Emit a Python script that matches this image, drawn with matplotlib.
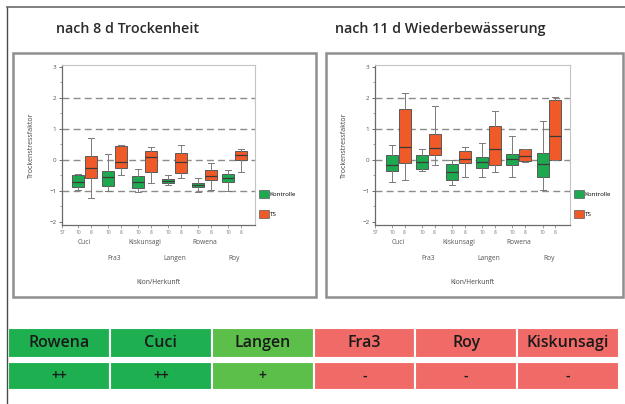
import matplotlib.pyplot as plt
from matplotlib.patches import Rectangle, Patch

plt.rcParams['font.family'] = ['Open Sans', 'DejaVu Sans']

W, H = 625, 404

klone = ['Cuci', 'Fra3', 'Kiskunsagi', 'Langen', 'Rowena', 'Roy']

# per clone: whisker low, q1, median, q3, whisker high
trocken_kontrolle = [
    [-0.97, -0.89, -0.72, -0.48, -0.45],
    [-1.00, -0.84, -0.55, -0.35, 0.18],
    [-1.05, -0.92, -0.72, -0.53, -0.31],
    [-0.82, -0.76, -0.69, -0.62, -0.48],
    [-1.05, -0.89, -0.82, -0.76, -0.58],
    [-1.00, -0.72, -0.58, -0.46, -0.33],
]
trocken_ts = [
    [-1.23, -0.58, -0.25, 0.13, 0.70],
    [-0.48, -0.28, -0.07, 0.44, 0.49],
    [-0.74, -0.41, 0.10, 0.27, 0.41],
    [-0.58, -0.43, -0.07, 0.21, 0.49],
    [-0.96, -0.64, -0.51, -0.33, -0.12],
    [-0.38, -0.02, 0.16, 0.29, 0.34],
]
wieder_kontrolle = [
    [-0.72, -0.35, -0.17, 0.16, 0.49],
    [-0.35, -0.31, -0.07, 0.16, 0.34],
    [-0.82, -0.66, -0.41, -0.14, -0.02],
    [-0.55, -0.25, -0.07, 0.10, 0.54],
    [-0.55, -0.17, 0.03, 0.18, 0.75],
    [-0.96, -0.55, -0.14, 0.21, 1.26],
]
wieder_ts = [
    [-0.64, -0.12, 0.41, 1.64, 2.15],
    [-0.17, 0.16, 0.39, 0.82, 1.72],
    [-0.55, -0.12, 0.03, 0.27, 0.41],
    [-0.41, -0.17, 0.34, 1.09, 1.57],
    [-0.07, -0.04, 0.13, 0.34, 0.34],
    [-0.02, -0.02, 0.75, 1.93, 2.03],
]

titel = ['nach 8 d Trockenheit', 'nach 11 d Wiederbewässerung']

# ranking table below the plots
rang_klone = ['Rowena', 'Cuci', 'Langen', 'Fra3', 'Roy', 'Kiskunsagi']
rang_wert = ['++', '++', '+', '-', '-', '-']

c_kontrolle = '#1ea84f'
c_ts = '#f05a28'
rang_farben = {'++': '#1eb050', '+': '#5cbf4a', '-': '#f06b68'}


def box(px, py, pw, ph):
    return [px / W, 1 - (py + ph) / H, pw / W, ph / H]


def boxplot_panel(ax, kontrolle, ts, xlim):
    keys = ['whislo', 'q1', 'med', 'q3', 'whishi']
    for daten, off, farbe in [(kontrolle, -0.21, c_kontrolle), (ts, 0.21, c_ts)]:
        stats = [dict(zip(keys, v)) for v in daten]
        pos = [i + 1 + off for i in range(len(daten))]
        ax.bxp(stats, positions=pos, widths=0.4, capwidths=0.2,
               patch_artist=True, showfliers=False, manage_ticks=False,
               boxprops=dict(facecolor=farbe, edgecolor='#5a5a5a', lw=0.7),
               medianprops=dict(color='#3a3a3a', lw=0.9),
               whiskerprops=dict(color='#7a7a7a', lw=0.7),
               capprops=dict(color='#7a7a7a', lw=0.7), zorder=3)

    for y in [2, 1, 0, -1]:
        ax.axhline(y, color='#8c8c8c', lw=1.0, ls=(0, (5, 3)), zorder=1)

    ax.set_xlim(*xlim)
    ax.set_ylim(-2.1, 3.05)
    ax.set_yticks([-2, -1, 0, 1, 2, 3])
    ax.set_yticks([-1.5, -0.5, 0.5, 1.5, 2.5], minor=True)
    ax.tick_params(axis='y', labelsize=4.5, colors='#555555', length=2.5, width=0.6, pad=1.5)
    ax.tick_params(axis='y', which='minor', length=1.5, width=0.5, colors='#777777')

    ticks = [xlim[0]]
    labels = ['57']
    for i in range(len(kontrolle)):
        ticks += [i + 1 - 0.21, i + 1 + 0.21]
        labels += ['10', '8']
    ax.set_xticks(ticks)
    ax.set_xticklabels(labels)
    ax.tick_params(axis='x', labelsize=3.5, colors='#777777', length=2, width=0.5, pad=1.5)

    for s in ['top', 'right']:
        ax.spines[s].set_color('#c4c4c4')
        ax.spines[s].set_linewidth(0.8)
    for s in ['left', 'bottom']:
        ax.spines[s].set_color('#6a6a6a')
        ax.spines[s].set_linewidth(0.9)

    # clone names in two staggered rows
    for i, name in enumerate(klone):
        ax.text(i + 1, -0.11 if i % 2 == 0 else -0.21, name,
                transform=ax.get_xaxis_transform(), ha='center', va='center',
                fontsize=4.8, color='#555555')
    ax.text(0.5, -0.36, 'Klon/Herkunft', transform=ax.transAxes,
            ha='center', va='center', fontsize=4.8, color='#444444')
    ax.set_ylabel('Trockenstressfaktor', fontsize=5, color='#444444')
    ax.yaxis.set_label_coords(-0.14, 0.5)

    handles = [Patch(facecolor=c_kontrolle, edgecolor='#5a5a5a', lw=0.5),
               Patch(facecolor=c_ts, edgecolor='#5a5a5a', lw=0.5)]
    ax.legend(handles, ['Kontrolle', 'TS'], loc='upper left',
              bbox_to_anchor=(1.02, 0.22), frameon=False, fontsize=4.5,
              handlelength=1.6, handleheight=1.6, handletextpad=0.15,
              labelspacing=1.9, borderaxespad=0, borderpad=0)


fig = plt.figure(figsize=(W / 100, H / 100), dpi=100)

# outer frame lines
fig.add_artist(plt.Line2D([7 / W, 7 / W], [0, 1 - 7 / H], color='#4a4a4a', lw=1.0))
fig.add_artist(plt.Line2D([7 / W, 1], [1 - 7 / H, 1 - 7 / H], color='#6a6a6a', lw=1.2))

# panel frames
for px, pw in [(13, 303), (326, 297)]:
    fig.add_artist(Rectangle((px / W, 1 - 297 / H), pw / W, 244 / H,
                             transform=fig.transFigure, fill=False,
                             edgecolor='#8f8f8f', lw=1.8))

fig.text(56 / W, 1 - 29 / H, titel[0], fontsize=10.3, fontweight='semibold',
         color='#2a2a2a', ha='left', va='center')
fig.text(335 / W, 1 - 29 / H, titel[1], fontsize=10.3, fontweight='semibold',
         color='#2a2a2a', ha='left', va='center')

ax1 = fig.add_axes(box(62, 65, 193, 160))
boxplot_panel(ax1, trocken_kontrolle, trocken_ts, (0.25, 6.68))

ax2 = fig.add_axes(box(375, 65, 195, 160))
boxplot_panel(ax2, wieder_kontrolle, wieder_ts, (0.23, 6.7))

# ranking table: header row with names, second row with rating
axt = fig.add_axes(box(8, 328, 611, 62))
n = len(rang_klone)
farben = [rang_farben[w] for w in rang_wert]
xs = list(range(n))
axt.bar(xs, 30, bottom=32, width=1, align='edge', color=farben,
        edgecolor='white', linewidth=1.5)
axt.bar(xs, 28, bottom=0, width=1, align='edge', color=farben,
        edgecolor='white', linewidth=1.5)
for i in range(n):
    axt.text(i + 0.5, 47, rang_klone[i], ha='center', va='center',
             fontsize=11.5, fontweight='semibold', color='#1a1a1a')
    axt.text(i + 0.5, 14, rang_wert[i], ha='center', va='center',
             fontsize=10, fontweight='semibold', color='#1a1a1a')
axt.set_xlim(0, n)
axt.set_ylim(0, 62)
axt.axis('off')

fig.savefig('out.png', dpi=100)
